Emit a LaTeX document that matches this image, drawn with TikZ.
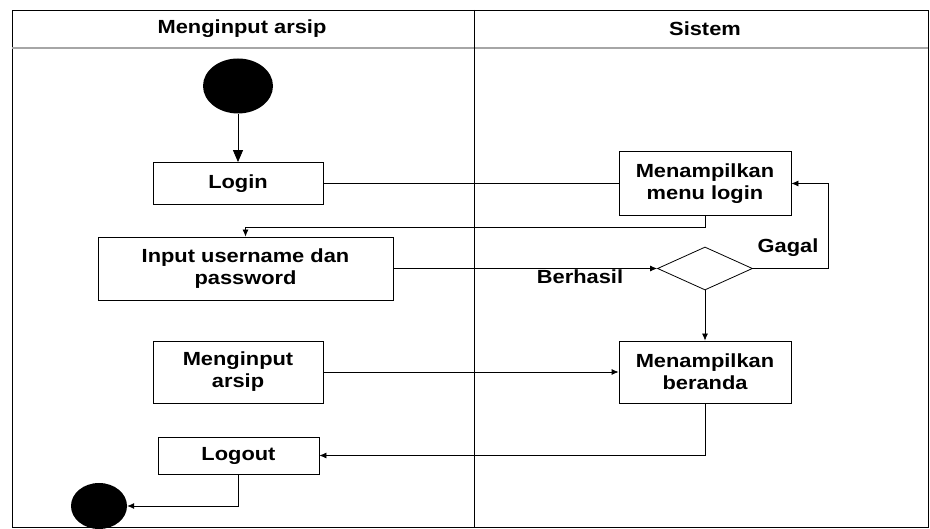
\documentclass[tikz,border=0pt]{standalone}
\usepackage{fontspec}
\setmainfont{Liberation Sans}[FakeStretch=1.15]
\usetikzlibrary{shapes.geometric,arrows.meta}
\begin{document}
\begin{tikzpicture}[x=1pt,y=-1pt]
\tikzset{
  box_s/.style = {draw=black, thick, rectangle, align=center, inner sep=2pt,
    font=\bfseries\fontsize{19}{22}\selectfont},
  dec_s/.style = {draw=black, thick, diamond, inner sep=0pt,
    minimum width=95pt, minimum height=43pt},
  dot_s/.style = {fill=black, ellipse, inner sep=0pt},
  lab_s/.style = {font=\bfseries\fontsize{19}{22}\selectfont},
  con_s/.style = {draw=black, thick, -{Latex[length=7pt,width=6pt]}}
}
\useasboundingbox (0,0) rectangle (930,529);
\fill[white] (0,0) rectangle (930,529);

\draw[thick] (12,10) rectangle (928,527);
\draw[gray!70, line width=2.5pt] (12,48) -- (928,48);
\draw[thick] (474,10) -- (474,527);
\node [lab_s] (h_user) at (242,29) {Menginput arsip};
\node [lab_s] (h_sys) at (705,29) {Sistem};

\node [dot_s, minimum width=70pt, minimum height=55pt] (start) at (238,86) {};
\node [box_s, minimum width=170pt, minimum height=42pt] (login) at (238,183.5) {Login};
\node [box_s, minimum width=295pt, minimum height=63pt] (input) at (245.5,268.5) {Input username dan\\password};
\node [box_s, minimum width=170pt, minimum height=62pt] (arsip) at (238,372) {Menginput\\arsip};
\node [box_s, minimum width=161pt, minimum height=37pt] (logout) at (238.5,455.5) {Logout};
\node [dot_s, minimum width=56pt, minimum height=46pt] (end) at (99,506) {};

\node [box_s, minimum width=172pt, minimum height=64pt] (menu) at (705,183.5) {Menampilkan\\menu login};
\node [dec_s] (cek) at (705,268.5) {};
\node [box_s, minimum width=172pt, minimum height=62pt] (beranda) at (705,372) {Menampilkan\\beranda};

\node [lab_s] (l_ok) at (580,277) {Berhasil};
\node [lab_s] (l_fail) at (788,248) {Gagal};

\draw [thick, -{Triangle[length=12pt,width=10pt]}] (start) -- (login);
\draw [thick] (login.east) -- (menu.west);
\draw [con_s] (menu.south) -- ++(0,12) -| (input.north);
\draw [con_s] (input.east) -- (cek.west);
\draw [con_s] (cek.east) -- ++(75,0) |- (menu.east);
\draw [con_s] (cek.south) -- (beranda.north);
\draw [con_s] (arsip.east) -- (beranda.west);
\draw [con_s] (beranda.south) |- (logout.east);
\draw [con_s] (logout.south) |- (end.east);

\end{tikzpicture}
\end{document}
